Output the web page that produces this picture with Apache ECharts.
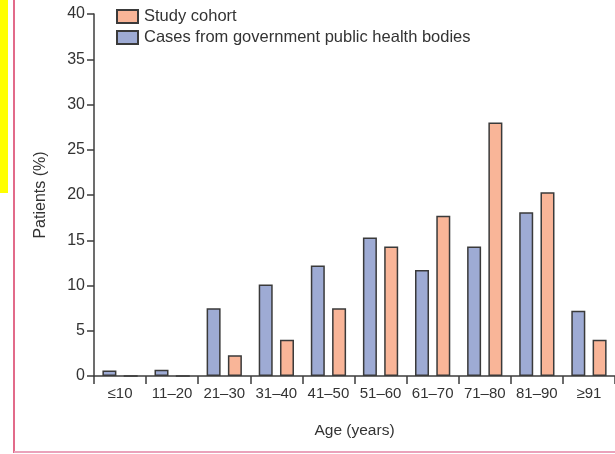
<!DOCTYPE html>
<html>
<head>
<meta charset="utf-8">
<script src="https://cdn.jsdelivr.net/npm/echarts@6/dist/echarts.min.js"></script>
<style>
  html, body { margin: 0; padding: 0; background: #fff; }
  #chart { width: 615px; height: 454px; }
</style>
</head>
<body>
<div id="chart"></div>
<script>
// Age groups on the x axis
const ageGroups = ['≤10', '11–20', '21–30', '31–40', '41–50', '51–60', '61–70', '71–80', '81–90', '≥91'];
// Percentage of patients in each age group
const governmentCases = [0.6, 0.7, 7.5, 10.1, 12.2, 15.3, 11.7, 14.3, 18.1, 7.2];
const studyCohort = [0, 0, 2.3, 4.0, 7.5, 14.3, 17.7, 28.0, 20.3, 4.0];
const seriesNames = ['Study cohort', 'Cases from government public health bodies'];
const yTicks = { min: 0, max: 40, interval: 5 };

const FONT = "'Liberation Sans', Arial, sans-serif";
const TEXT = '#333333';
const AXIS = '#3c3c3c';

const chart = echarts.init(document.getElementById('chart'), null, { renderer: 'canvas' });

chart.setOption({
  animation: false,
  backgroundColor: '#ffffff',
  textStyle: { fontFamily: FONT, color: TEXT },
  grid: { left: 94, top: 14, width: 526, height: 362, containLabel: false },
  legend: {
    data: seriesNames,
    orient: 'vertical',
    icon: 'rect',
    left: 116,
    top: 8,
    padding: 0,
    itemWidth: 21,
    itemHeight: 13,
    itemGap: 4,
    textStyle: { fontFamily: FONT, fontSize: 16.5, color: TEXT, padding: [0, 0, 0, 1] }
  },
  xAxis: {
    type: 'category',
    data: ageGroups,
    name: 'Age (years)',
    nameLocation: 'middle',
    nameGap: 47,
    nameTextStyle: { fontFamily: FONT, fontSize: 15.5, color: TEXT },
    axisLine: { lineStyle: { color: AXIS, width: 1.5 } },
    axisTick: { show: true, length: 8, lineStyle: { color: AXIS, width: 1.5 } },
    axisLabel: { fontFamily: FONT, fontSize: 15, color: TEXT, margin: 10, interval: 0 }
  },
  yAxis: {
    type: 'value',
    min: yTicks.min,
    max: yTicks.max,
    interval: yTicks.interval,
    name: 'Patients (%)',
    nameLocation: 'middle',
    nameRotate: 90,
    nameGap: 45,
    nameTextStyle: { fontFamily: FONT, fontSize: 16, color: TEXT },
    splitLine: { show: false },
    axisLine: { show: true, lineStyle: { color: AXIS, width: 1.5 } },
    axisTick: { show: true, length: 7, lineStyle: { color: AXIS, width: 1.5 } },
    axisLabel: { fontFamily: FONT, fontSize: 16, color: TEXT, margin: 9 }
  },
  series: [
    {
      name: seriesNames[1],
      type: 'bar',
      data: governmentCases,
      barWidth: 14,
      barGap: '52%',
      itemStyle: { color: '#9eabd4', borderColor: '#3a3a3a', borderWidth: 1.5 }
    },
    {
      name: seriesNames[0],
      type: 'bar',
      data: studyCohort,
      barWidth: 14,
      itemStyle: { color: '#f9b598', borderColor: '#3a3a3a', borderWidth: 1.5 }
    }
  ],
  graphic: [
    { type: 'rect', left: 0, top: 0, shape: { width: 8, height: 193 }, style: { fill: '#ffff00' }, silent: true },
    { type: 'line', shape: { x1: 14, y1: 0, x2: 14, y2: 453 }, style: { stroke: '#d93a63', lineWidth: 1.5 }, silent: true },
    { type: 'line', shape: { x1: 14, y1: 452, x2: 615, y2: 452 }, style: { stroke: '#eaa3bb', lineWidth: 2 }, silent: true }
  ]
});
</script>
</body>
</html>
